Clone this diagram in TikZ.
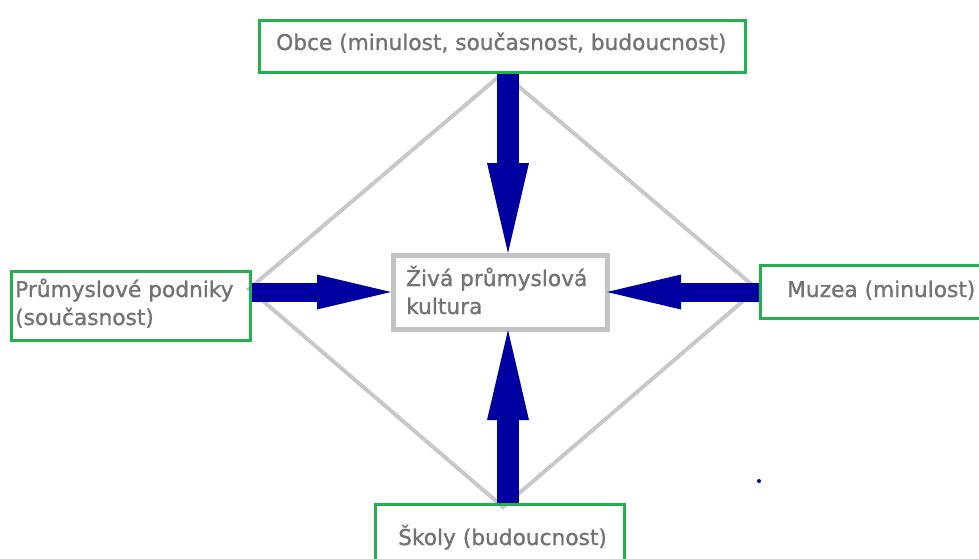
\documentclass[tikz,border=0pt]{standalone}
\usepackage{fontspec}
\setmainfont{DejaVu Sans}[FakeBold=1.2]
\usetikzlibrary{arrows.meta}
\definecolor{gboxc}{RGB}{34,177,76}
\definecolor{dline}{RGB}{200,200,200}
\definecolor{cbox}{RGB}{195,195,195}
\definecolor{navyb}{RGB}{0,0,160}
\definecolor{txtc}{RGB}{115,115,118}
\begin{document}
\begin{tikzpicture}[x=1pt,y=-1pt,
  gbox/.style={draw=gboxc, line width=3pt, rectangle, inner sep=0pt},
  cboxs/.style={draw=cbox, line width=5pt, fill=white, rectangle, inner sep=0pt},
  lbl/.style={text=txtc, inner sep=0pt, anchor=base west, font=\fontsize{21.7}{28}\selectfont},
  varrow/.style={draw=navyb, line width=22pt, -{Triangle[length=90pt,width=42pt,line width=0pt]}},
  harrow/.style={draw=navyb, line width=19pt, -{Triangle[length=74pt,width=35pt,line width=0pt]}}]
\useasboundingbox (0,0) rectangle (979,559);
% diamond
\coordinate (dt) at (503,73);
\coordinate (dr) at (757,289);
\coordinate (db) at (503,507);
\coordinate (dl) at (249,289);
\draw[dline, line width=4pt, line join=miter] (dt) -- (dr) -- (db) -- (dl) -- cycle;
% boxes
\node[gbox, minimum width=486pt, minimum height=52pt] (obce) at (502,46.5) {};
\node[gbox, minimum width=239pt, minimum height=69pt] (podniky) at (130.5,306) {};
\node[gbox, minimum width=230pt, minimum height=53.5pt] (muzea) at (875,291.75) {};
\node[gbox, minimum width=249pt, minimum height=75pt] (skoly) at (499.5,542) {};
\node[cboxs, minimum width=214pt, minimum height=74pt] (zk) at (500.5,292.5) {};
% texts
\node[lbl] (obcet) at (276,50) {Obce (minulost, současnost, budoucnost)};
\node[lbl] (podnikyt) at (15,297) {\begin{tabular}[t]{@{}l@{}}Průmyslové podniky\\(současnost)\end{tabular}};
\node[lbl] (zkt) at (406,286) {\begin{tabular}[t]{@{}l@{}}Živá průmyslová\\kultura\end{tabular}};
\node[lbl] (muzeat) at (787,297) {Muzea (minulost)};
\node[lbl] (skolyt) at (398,545) {Školy (budoucnost)};
% arrows
\coordinate (vax) at (508,0);
\coordinate (hax) at (0,292);
\draw[varrow] (obce.south -| vax) -- (zk.north -| vax);
\draw[varrow] (skoly.north -| vax) -- ([yshift=2pt]zk.south -| vax);
\draw[harrow] (podniky.east |- hax) -- (zk.west |- hax);
\draw[harrow] (muzea.west |- hax) -- ([xshift=-3pt]zk.east |- hax);
% stray dot
\node[circle, fill=navyb, inner sep=0pt, minimum size=4pt] (dot) at (759,481) {};
\end{tikzpicture}
\end{document}
